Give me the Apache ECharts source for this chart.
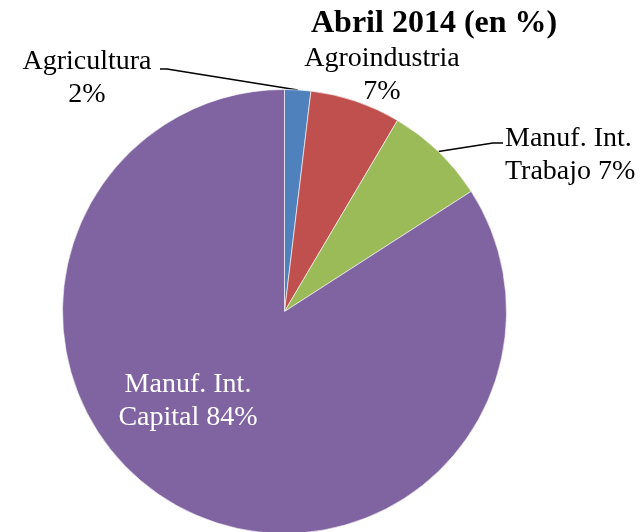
<!DOCTYPE html>
<html>
<head>
<meta charset="utf-8">
<script src="https://cdn.jsdelivr.net/npm/echarts@6/dist/echarts.min.js"></script>
<style>
  html, body { margin: 0; padding: 0; background: #fff; }
  #pieChart { width: 641px; height: 532px; }
</style>
</head>
<body>
<div id="pieChart"></div>
<script>
// datos (en %)
var categories = ['Agricultura', 'Agroindustria', 'Manuf. Int.\nTrabajo', 'Manuf. Int.\nCapital'];
var values = [1.9, 6.6, 7.4, 84.1];
var separators = ['\n', '\n', ' ', ' '];
var colors = ['#4F81BD', '#C0504D', '#9BBB59', '#8064A2'];

// posicion de las etiquetas [x, y, align]
var labelPos = [[87, 78, 'center'], [382, 75, 'center'], [505, 155, 'left'], [188, 401, 'center']];
var showLine = [true, false, true, false];

var pieChart = echarts.init(document.getElementById('pieChart'));

function buildData() {
    var res = [];
    for (var i = 0; i < categories.length; i++) {
        res.push({
            name: categories[i],
            value: values[i],
            itemStyle: { color: colors[i] },
            label: { color: i == 3 ? '#fff' : '#000' },
            labelLine: { show: showLine[i] }
        });
    }
    return res;
}

pieChart.setOption({
    animation: false,
    title: {
        text: 'Abril 2014 (en %)',
        left: 311,
        top: 8,
        padding: 0,
        textStyle: {
            fontFamily: 'Liberation Serif',
            fontWeight: 'bold',
            fontSize: 32,
            color: '#000'
        }
    },
    series: [
        {
            type: 'pie',
            center: [284.5, 311.5],
            radius: 222,
            startAngle: 90,
            clockwise: true,
            avoidLabelOverlap: false,
            itemStyle: {
                borderColor: '#fff',
                borderWidth: 0.6
            },
            label: {
                show: true,
                position: 'outside',
                fontFamily: 'Liberation Serif',
                fontSize: 28,
                lineHeight: 33,
                formatter: function (p) {
                    return p.name + separators[p.dataIndex] + Math.round(p.value) + '%';
                }
            },
            labelLine: {
                show: true,
                length: 10,
                length2: 10,
                lineStyle: { color: '#000', width: 1.5 }
            },
            labelLayout: function (params) {
                var i = params.dataIndex;
                var pos = labelPos[i];
                var out = {
                    x: pos[0],
                    y: pos[1],
                    align: pos[2],
                    verticalAlign: 'middle'
                };
                var anchor = params.labelLinePoints ? params.labelLinePoints[0] : null;
                if (anchor && i == 0) {
                    out.labelLinePoints = [anchor, [167, 69], [160, 69]];
                } else if (anchor && i == 2) {
                    out.labelLinePoints = [anchor, [493, 143], [503, 143]];
                }
                return out;
            },
            data: buildData()
        }
    ]
});
</script>
</body>
</html>
